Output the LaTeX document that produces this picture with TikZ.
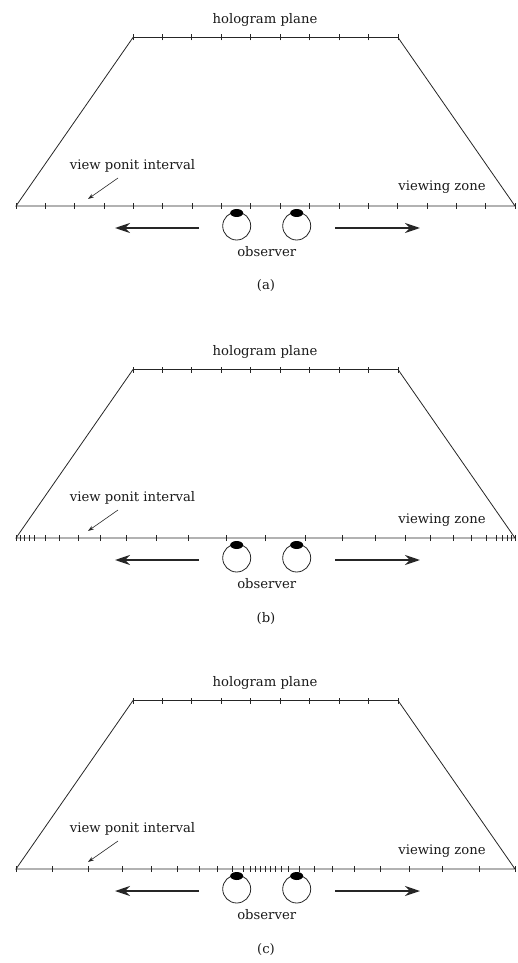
\documentclass[tikz,border=0pt]{standalone}
\usepackage{fontspec}
\setmainfont{DejaVu Serif}
\usetikzlibrary{arrows.meta}

\tikzset{
  every node/.style={font=\fontsize{13.2}{16}\selectfont, text=black!90, inner sep=0pt},
  eyeball/.style={circle, draw, minimum size=28pt},
  move/.style={line width=2.2pt, -{Stealth[length=15pt,width=10pt]}},
  pointer/.style={line width=0.6pt, -{Stealth[length=6pt,width=4pt]}},
}

\begin{document}
\begin{tikzpicture}[x=1pt,y=1pt,line width=0.8pt,draw=black!85]
  \useasboundingbox (0,206) rectangle (518,-757);
  \foreach \p/\shift/\tl in {a/0/{14.7,44,73.4,102.7,132.1,161.4,190.8,220.1,249.5},
      b/-332/{0,39.5,77,109.5,139.5,165,187.5,206,220.5,231,236.5,241.5,245.5,249.5},
      c/-663/{0,5,10,15.5,22.5,33.5,48.5,66.5,88.5,114.5,143.5,177,213.5,249.5}}{
    \begin{scope}[yshift=\shift]
      % frame: viewing zone below, hologram plane above
      \coordinate (zl\p) at (16,0);
      \coordinate (zr\p) at (515,0);
      \coordinate (hl\p) at (133,168.5);
      \coordinate (hr\p) at (398,168.5);
      \draw (zl\p) -- (hl\p) -- (hr\p) -- (zr\p) -- cycle;
      \foreach \k in {0,...,9} \draw (133+\k*29.444,165.5) -- ++(0,6);
      \foreach \t in \tl {
        \draw (265.5+\t,-3) -- ++(0,6);
        \draw (265.5-\t,-3) -- ++(0,6);
      }
      \node[anchor=base] (holo\p) at (265,182.7) {hologram plane};
      \node[anchor=base] (vpi\p) at (132.5,36.5) {view ponit interval};
      \node[anchor=base] (zone\p) at (442,15) {viewing zone};
      \coordinate (pt\p) at (118,28);
      \coordinate (ph\p) at (88,7);
      \draw[pointer] (pt\p) -- (ph\p);
      % observer
      \node[eyeball] (eyel\p) at (236.7,-20) {};
      \node[eyeball] (eyer\p) at (296.7,-20) {};
      \fill (236.7,-7) ellipse (6.5 and 4);
      \fill (296.7,-7) ellipse (6.5 and 4);
      \coordinate (ml\p) at (199,-22);
      \coordinate (mlt\p) at (115,-22);
      \coordinate (mr\p) at (335,-22);
      \coordinate (mrt\p) at (420,-22);
      \draw[move] (ml\p) -- (mlt\p);
      \draw[move] (mr\p) -- (mrt\p);
      \node[anchor=base] (obs\p) at (266.7,-50.7) {observer};
      \node[anchor=base] (cap\p) at (266,-84) {(\p)};
    \end{scope}
  }
\end{tikzpicture}
\end{document}
